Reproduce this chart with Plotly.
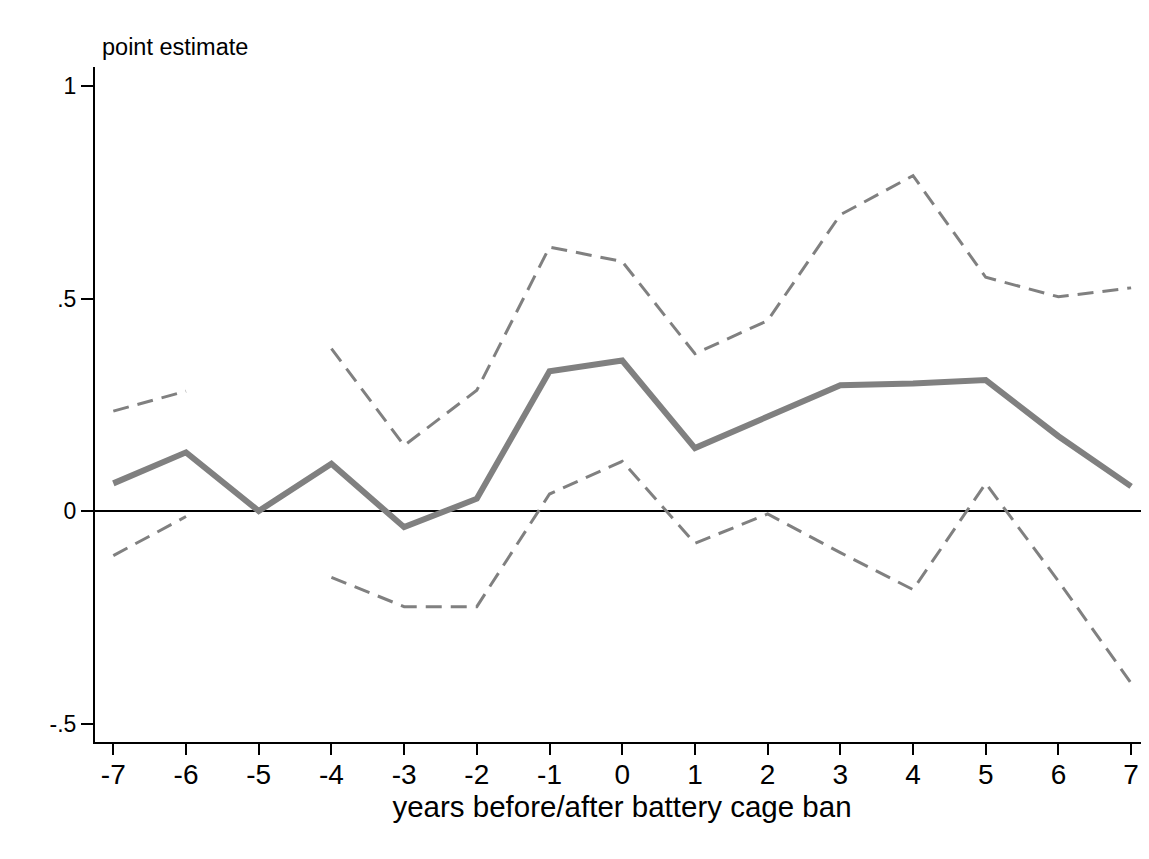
import plotly.graph_objects as go

years = [-7, -6, -5, -4, -3, -2, -1, 0, 1, 2, 3, 4, 5, 6, 7]
point_est = [0.065, 0.138, 0.0, 0.111, -0.038, 0.029, 0.329, 0.354, 0.148, 0.222, 0.296, 0.300, 0.308, 0.176, 0.058]
upper_ci = [0.235, 0.282, None, 0.382, 0.154, 0.284, 0.621, 0.587, 0.370, 0.448, 0.697, 0.789, 0.550, 0.504, 0.525]
lower_ci = [-0.105, -0.013, None, -0.156, -0.225, -0.225, 0.040, 0.117, -0.076, -0.007, -0.098, -0.185, 0.065, -0.165, -0.405]

y_tickvals = [-0.5, 0, 0.5, 1]
y_ticktext = ["-.5", "0", ".5", "1"]
x_ticktext = [str(v) for v in years]

GRAY = "#808080"
FONT = "Arial, Liberation Sans, sans-serif"

fig = go.Figure()
fig.add_trace(go.Scatter(x=years, y=upper_ci, mode="lines", connectgaps=False,
                         line=dict(color=GRAY, width=3, dash="16px,9px"), showlegend=False))
fig.add_trace(go.Scatter(x=years, y=lower_ci, mode="lines", connectgaps=False,
                         line=dict(color=GRAY, width=3, dash="16px,9px"), showlegend=False))
fig.add_trace(go.Scatter(x=years, y=point_est, mode="lines",
                         line=dict(color=GRAY, width=6), showlegend=False))

# page body has an 8px margin, so the figure is shifted by 8px
fig.update_layout(
    width=1141, height=851,
    margin=dict(l=87, r=0, t=59, b=117),
    paper_bgcolor="white", plot_bgcolor="white",
    font=dict(family=FONT, color="black"),
    xaxis=dict(
        range=[-7.252, 7.246], tickvals=years, ticktext=x_ticktext,
        showline=True, linecolor="black", linewidth=2,
        ticks="outside", ticklen=11, tickwidth=1.6, tickcolor="black",
        tickfont=dict(size=28, family=FONT), showgrid=False, zeroline=False,
        ticklabelstandoff=-5,
        title=dict(text="years before/after battery cage ban", font=dict(size=29.5, family=FONT), standoff=2),
    ),
    yaxis=dict(
        range=[-0.5435, 1.0447], tickvals=y_tickvals, ticktext=y_ticktext,
        showline=True, linecolor="black", linewidth=2,
        ticks="outside", ticklen=12, tickwidth=1.6, tickcolor="black",
        tickfont=dict(size=23, family=FONT), showgrid=False, ticklabelstandoff=0,
        zeroline=True, zerolinecolor="black", zerolinewidth=2.4,
    ),
    annotations=[dict(text="point estimate", xref="paper", yref="paper",
                      x=(100 - 95) / 1054, y=1 + 20 / 675, xanchor="left", yanchor="middle",
                      showarrow=False, font=dict(size=23.5, family=FONT, color="black"))],
)

fig.write_html("out.html")
